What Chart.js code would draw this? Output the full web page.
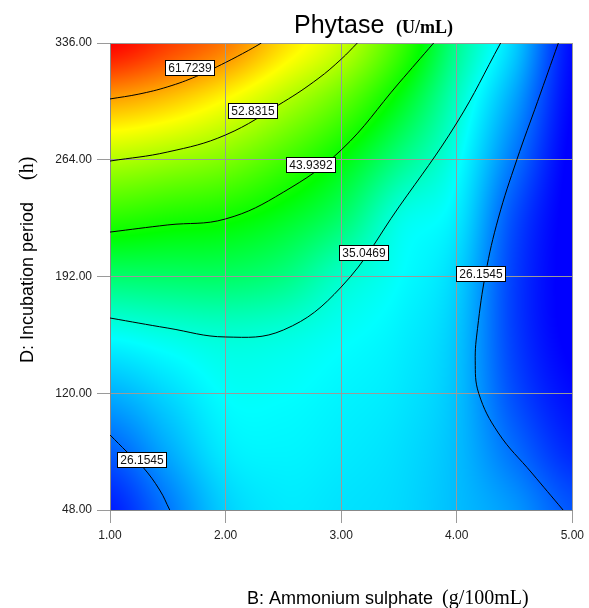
<!DOCTYPE html>
<html><head><meta charset="utf-8">
<script src="https://cdn.jsdelivr.net/npm/chart.js@4/dist/chart.umd.min.js"></script>
<style>html,body{margin:0;padding:0;background:#fff;}canvas{display:block;}</style>
</head><body>
<canvas id="c" width="589" height="608"></canvas>
<script>
// ---- data ----
const bValues = [1.0, 1.5, 2.0, 2.5, 3.0, 3.5, 4.0, 4.5, 5.0];      // B: Ammonium sulphate
const dValues = [48, 84, 120, 156, 192, 228, 264, 300, 336];        // D: Incubation period
// phytase response, one row per D value (ascending), columns follow bValues
const row048 = [21.5, 26.3, 31.0, 32.4, 32.0, 31.5, 30.0, 28.0, 24.5];
const row084 = [25.0, 29.0, 32.5, 33.0, 32.5, 31.8, 30.0, 25.8, 22.0];
const row120 = [29.3, 31.5, 33.6, 33.6, 33.0, 32.3, 30.2, 24.0, 20.5];
const row156 = [33.8, 34.6, 35.2, 34.8, 33.8, 32.8, 30.5, 23.2, 19.5];
const row192 = [39.3, 39.5, 39.6, 38.5, 35.6, 33.6, 31.2, 23.2, 19.3];
const row228 = [45.7, 44.8, 44.1, 42.3, 39.4, 34.6, 32.5, 24.0, 19.3];
const row264 = [53.0, 51.8, 50.2, 47.1, 43.3, 38.4, 34.0, 26.2, 19.5];
const row300 = [61.4, 59.7, 56.8, 52.9, 48.6, 42.7, 35.8, 28.5, 20.0];
const row336 = [70.0, 67.0, 63.8, 58.8, 54.2, 47.0, 38.0, 31.0, 20.5];

const xTickValues = [1, 2, 3, 4, 5];
const yTickValues = [48, 120, 192, 264, 336];

const contourLevels = ['61.7239', '52.8315', '43.9392', '35.0469', '26.1545', '26.1545'];
const contour61 = [[1.0,301.5],[1.25,304.5],[1.5,309],[1.75,315.5],[2.0,324],[2.2,331.5],[2.31,336]];
const contour52 = [[1.0,263.2],[1.5,268.8],[2.0,279.3],[2.5,299.6],[2.8,314],[3.0,326],[3.14,336]];
const contour43 = [[1.0,219.4],[1.5,223.8],[2.0,227.5],[2.5,244],[3.0,270],[3.5,311.3],[3.8,336]];
const contour35 = [[1.0,166.4],[1.5,160.2],[2.0,154.7],[2.5,159],[3.0,185.5],[3.5,234.9],[4.0,286.7],[4.38,336]];
const contour26r = [[4.879,336],[4.70,300],[4.52,264],[4.36,228],[4.25,194],[4.18,160],[4.16,140],[4.19,120],[4.36,95.5],[4.65,70.8],[4.92,48]];
const contour26l = [[1.0,94.3],[1.147,83.8],[1.284,74.5],[1.43,60.3],[1.517,48]];
const contourLines = [contour61, contour52, contour43, contour35, contour26r, contour26l];
// label anchors (data coordinates) for each contour
const labelAnchors = [[1.69,320.3],[2.24,293.8],[2.74,260.8],[3.2,206.8],[4.207,193.5],[1.276,78.8]];

// ---- rendering ----
const grid = [row048,row084,row120,row156,row192,row228,row264,row300,row336];
const cmap = [[20,[0,0,255]],[33.5,[0,255,255]],[43.5,[0,255,0]],[57,[255,255,0]],[70,[255,0,0]]];
function colorFor(v){
  if (v <= cmap[0][0]) return cmap[0][1];
  for (let i=1;i<cmap.length;i++){
    if (v <= cmap[i][0]){
      const a=cmap[i-1], b=cmap[i]; const t=(v-a[0])/(b[0]-a[0]);
      return [0,1,2].map(k=>a[1][k]+(b[1][k]-a[1][k])*t);
    }
  }
  return cmap[cmap.length-1][1];
}
function cr(p0,p1,p2,p3,t){return 0.5*((2*p1)+(-p0+p2)*t+(2*p0-5*p1+4*p2-p3)*t*t+(-p0+3*p1-3*p2+p3)*t*t*t);}
function fracIndex(arr,v){
  if (v<=arr[0]) return 0; const n=arr.length;
  if (v>=arr[n-1]) return n-1;
  for(let i=0;i<n-1;i++){ if(v<=arr[i+1]) return i+(v-arr[i])/(arr[i+1]-arr[i]); }
  return n-1;
}
function sample(b,d){
  const fx=fracIndex(bValues,b), fy=fracIndex(dValues,d);
  const nx=bValues.length, ny=dValues.length;
  let ix=Math.min(Math.floor(fx),nx-2), iy=Math.min(Math.floor(fy),ny-2);
  const tx=fx-ix, ty=fy-iy;
  const cx=i=>Math.max(0,Math.min(nx-1,i)), cy=i=>Math.max(0,Math.min(ny-1,i));
  const rows=[];
  for(let j=-1;j<=2;j++){
    const r=grid[cy(iy+j)];
    rows.push(cr(r[cx(ix-1)],r[cx(ix)],r[cx(ix+1)],r[cx(ix+2)],tx));
  }
  return cr(rows[0],rows[1],rows[2],rows[3],ty);
}

const heatmapPlugin = {
  id:'heatmap',
  beforeDraw(chart){
    const {ctx, chartArea:a, scales:{x,y}} = chart;
    const L=Math.round(a.left), T=Math.round(a.top), W=Math.round(a.right)-L, H=Math.round(a.bottom)-T;
    const img=ctx.createImageData(W,H);
    for(let j=0;j<H;j++){
      const dv=y.getValueForPixel(T+j+0.5);
      for(let i=0;i<W;i++){
        const bv=x.getValueForPixel(L+i+0.5);
        const c=colorFor(sample(bv,dv));
        const k=(j*W+i)*4;
        img.data[k]=c[0]; img.data[k+1]=c[1]; img.data[k+2]=c[2]; img.data[k+3]=255;
      }
    }
    ctx.putImageData(img,L,T);
  }
};

const textPlugin = {
  id:'texts',
  afterDatasetsDraw(chart){
    const {ctx, scales:{x,y}} = chart;
    ctx.save();
    ctx.font='12px "Liberation Sans", Arial, sans-serif';
    ctx.textAlign='center'; ctx.textBaseline='middle';
    labelAnchors.forEach((p,i)=>{
      const px=Math.round(x.getPixelForValue(p[0])), py=Math.round(y.getPixelForValue(p[1]));
      ctx.fillStyle='#fff'; ctx.fillRect(px-25,py-8,50,16);
      ctx.strokeStyle='#000'; ctx.lineWidth=1; ctx.strokeRect(px-24.5,py-7.5,49,15);
      ctx.fillStyle='#111'; ctx.fillText(contourLevels[i],px,py+1);
    });
    ctx.restore();
  },
  afterDraw(chart){
    const ctx=chart.ctx;
    ctx.save();
    ctx.fillStyle='#000'; ctx.textAlign='left'; ctx.textBaseline='alphabetic';
    ctx.font='25px "Liberation Sans", Arial, sans-serif';
    ctx.fillText('Phytase',294,33);
    ctx.font='bold 18px "Liberation Serif", "Times New Roman", serif';
    ctx.fillText('(U/mL)',396,33);
    ctx.font='18px "Liberation Sans", Arial, sans-serif';
    ctx.fillText('B: Ammonium sulphate',247,604);
    ctx.font='20px "Liberation Serif", "Times New Roman", serif';
    ctx.fillText('(g/100mL)',442,604);
    ctx.translate(33,363); ctx.rotate(-Math.PI/2);
    ctx.font='18px "Liberation Sans", Arial, sans-serif';
    ctx.fillText('D: Incubation period',0,0);
    ctx.font='20px "Liberation Serif", "Times New Roman", serif';
    ctx.fillText('(h)',183,0);
    ctx.restore();
  }
};

const datasets = contourLines.map(pts=>({
  data: pts.map(p=>({x:p[0],y:p[1]})),
  showLine:true, borderColor:'#000', borderWidth:1, pointRadius:0, tension:0.4, fill:false
}));

new Chart(document.getElementById('c'),{
  type:'scatter',
  data:{datasets},
  options:{
    responsive:false, devicePixelRatio:1, animation:false,
    layout:{padding:{left:0,right:15,top:43,bottom:0}},
    plugins:{legend:{display:false},tooltip:{enabled:false},title:{display:false}},
    scales:{
      x:{type:'linear',min:1,max:5,
        afterBuildTicks:s=>{s.ticks=xTickValues.map(v=>({value:v}));},
        afterFit:s=>{s.height=98;},
        grid:{color:'#9a9a9a',tickLength:13,lineWidth:1},
        border:{color:'#888'},
        ticks:{padding:5,color:'#222',font:{family:'"Liberation Sans", Arial, sans-serif',size:12},callback:v=>Number(v).toFixed(2),maxRotation:0}
      },
      y:{type:'linear',min:48,max:336,
        afterBuildTicks:s=>{s.ticks=yTickValues.map(v=>({value:v}));},
        afterFit:s=>{s.width=110;},
        grid:{color:'#9a9a9a',tickLength:13,lineWidth:1},
        border:{color:'#888'},
        ticks:{padding:5,color:'#222',font:{family:'"Liberation Sans", Arial, sans-serif',size:12},callback:v=>Number(v).toFixed(2)}
      }
    }
  },
  plugins:[heatmapPlugin,textPlugin]
});
</script>
</body></html>
